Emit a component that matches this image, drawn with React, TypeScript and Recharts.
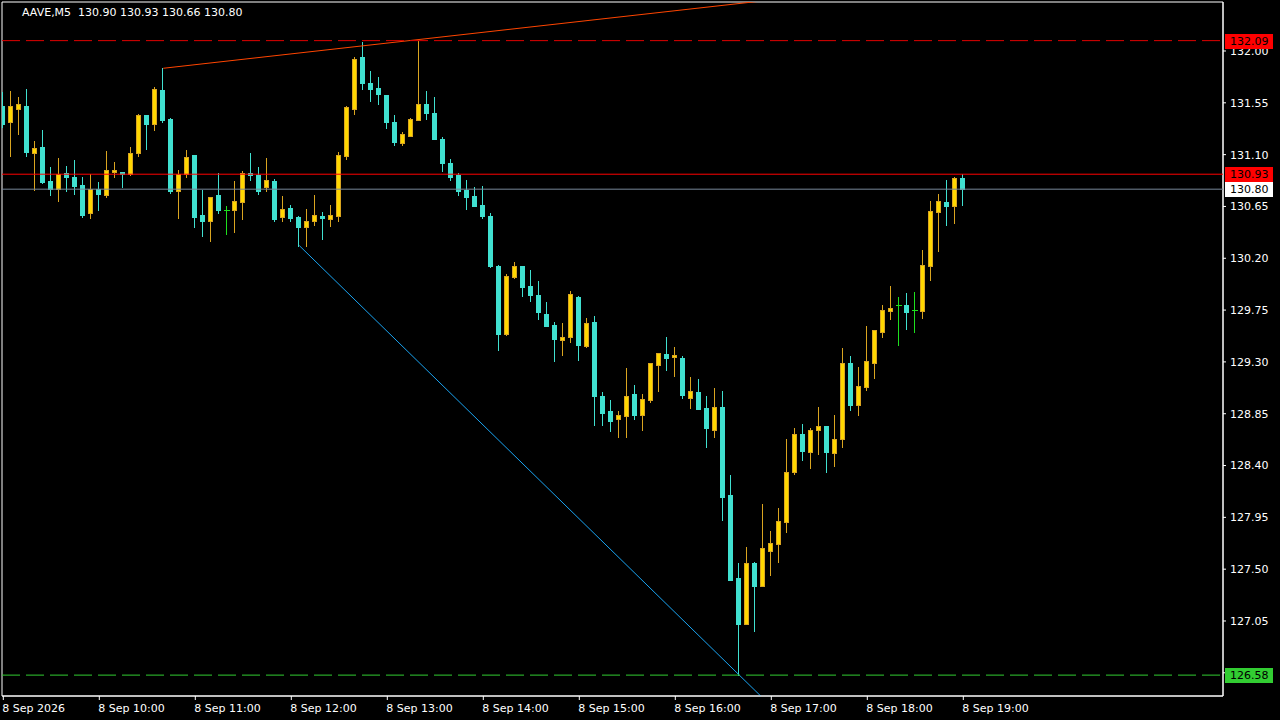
import { ComposedChart, Bar, XAxis, YAxis, ReferenceLine, ReferenceArea } from 'recharts';

// AAVE M5 candles, 8 Sep 2026 09:00 -> 19:00 (index = bar number)
const symbolTitle = 'AAVE,M5';

const opens = [
    131.52, 131.38, 131.50, 131.52, 131.11, 131.17, 130.87, 130.80, 130.94, 130.91,
    130.84, 130.59, 130.80, 130.75, 130.95, 130.95, 130.93, 131.11, 131.44, 131.37,
    131.66, 131.41, 130.78, 130.93, 131.10, 130.58, 130.52, 130.75, 130.62, 130.62,
    130.69, 130.94, 130.92, 130.82, 130.87, 130.56, 130.64, 130.56, 130.47, 130.52,
    130.57, 130.54, 130.57, 131.09, 131.50, 131.95, 131.72, 131.68, 131.62, 131.38,
    131.20, 131.26, 131.40, 131.54, 131.46, 131.24, 131.03, 130.92, 130.79, 130.74,
    130.66, 130.57, 130.13, 129.54, 130.04, 130.13, 129.96, 129.88, 129.72, 129.62,
    129.49, 129.52, 129.86, 129.44, 129.65, 129.00, 128.87, 128.80, 128.83, 129.02,
    128.84, 128.97, 129.27, 129.37, 129.34, 129.33, 128.99, 129.04, 128.90, 128.71,
    128.91, 128.14, 127.42, 127.02, 127.55, 127.35, 127.66, 127.72, 127.91, 128.34,
    128.67, 128.52, 128.71, 128.74, 128.51, 128.63, 129.29, 128.93, 129.08, 129.29,
    129.56, 129.74, 129.79, 129.79, 129.75, 129.74, 130.13, 130.60, 130.69, 130.65,
    130.90,
];

const highs = [
    131.64, 131.65, 131.60, 131.67, 131.22, 131.31, 130.99, 131.07, 131.00, 131.05,
    130.91, 130.93, 130.86, 131.13, 131.04, 130.95, 131.17, 131.45, 131.44, 131.69,
    131.85, 131.42, 130.97, 131.14, 131.10, 130.79, 130.73, 130.94, 130.65, 130.87,
    130.96, 131.11, 130.99, 131.07, 130.89, 130.74, 130.66, 130.57, 130.63, 130.75,
    130.60, 130.66, 131.12, 131.52, 131.95, 132.08, 131.83, 131.77, 131.62, 131.44,
    131.30, 131.42, 132.09, 131.65, 131.60, 131.25, 131.06, 130.94, 130.88, 130.82,
    130.83, 130.59, 130.14, 130.06, 130.17, 130.13, 130.10, 130.00, 129.82, 129.65,
    129.64, 129.92, 129.87, 129.68, 129.70, 129.04, 128.97, 128.87, 129.25, 129.10,
    129.02, 129.29, 129.38, 129.52, 129.43, 129.35, 129.17, 129.15, 129.00, 129.07,
    129.05, 128.32, 127.55, 127.69, 127.56, 128.07, 127.83, 128.03, 128.63, 128.73,
    128.76, 128.73, 128.91, 128.74, 128.84, 129.42, 129.35, 129.26, 129.61, 129.58,
    129.79, 129.96, 129.86, 129.90, 129.91, 130.27, 130.70, 130.76, 130.88, 130.91,
    130.93,
];

const lows = [
    131.34, 131.09, 131.28, 131.09, 130.79, 130.85, 130.75, 130.70, 130.78, 130.76,
    130.56, 130.55, 130.62, 130.73, 130.91, 130.82, 130.92, 131.09, 131.15, 131.31,
    131.38, 130.77, 130.55, 130.91, 130.47, 130.39, 130.35, 130.59, 130.41, 130.43,
    130.54, 130.88, 130.76, 130.78, 130.52, 130.52, 130.52, 130.31, 130.31, 130.49,
    130.37, 130.48, 130.52, 131.06, 131.45, 131.67, 131.57, 131.54, 131.33, 131.18,
    131.18, 131.26, 131.40, 131.41, 131.24, 130.96, 130.88, 130.75, 130.63, 130.65,
    130.55, 130.12, 129.40, 129.53, 130.03, 129.87, 129.83, 129.67, 129.61, 129.31,
    129.36, 129.47, 129.32, 129.43, 128.75, 128.75, 128.70, 128.65, 128.65, 128.80,
    128.71, 128.95, 129.05, 129.23, 129.18, 128.99, 128.90, 128.89, 128.56, 128.65,
    127.93, 127.41, 126.58, 127.02, 126.96, 127.35, 127.45, 127.56, 127.82, 128.33,
    128.45, 128.38, 128.50, 128.34, 128.40, 128.56, 128.88, 128.84, 129.06, 129.16,
    129.52, 129.67, 129.45, 129.59, 129.56, 129.68, 130.01, 130.26, 130.49, 130.51,
    130.66,
];

const closes = [
    131.37, 131.52, 131.54, 131.12, 131.16, 130.86, 130.80, 130.93, 130.91, 130.83,
    130.58, 130.80, 130.76, 130.97, 130.97, 130.93, 131.11, 131.44, 131.37, 131.67,
    131.40, 130.78, 130.93, 131.08, 130.56, 130.52, 130.73, 130.62, 130.62, 130.70,
    130.94, 130.92, 130.78, 130.88, 130.54, 130.63, 130.55, 130.47, 130.52, 130.58,
    130.55, 130.58, 131.10, 131.51, 131.93, 131.72, 131.67, 131.63, 131.38, 131.21,
    131.28, 131.41, 131.54, 131.46, 131.24, 131.03, 130.91, 130.78, 130.73, 130.65,
    130.57, 130.13, 129.54, 130.05, 130.13, 129.95, 129.88, 129.73, 129.61, 129.50,
    129.52, 129.89, 129.45, 129.64, 129.00, 128.86, 128.79, 128.84, 129.00, 128.84,
    128.98, 129.29, 129.38, 129.33, 129.36, 129.01, 129.05, 128.89, 128.73, 128.91,
    128.13, 127.41, 127.02, 127.55, 127.35, 127.68, 127.73, 127.92, 128.34, 128.67,
    128.53, 128.71, 128.74, 128.52, 128.63, 129.29, 128.93, 129.09, 129.31, 129.58,
    129.75, 129.77, 129.79, 129.73, 129.75, 130.14, 130.61, 130.70, 130.65, 130.90,
    130.80,
];

const timeTicks = [0, 12, 24, 36, 48, 60, 72, 84, 96, 108, 120];
const timeLabels = [
    '8 Sep 2026', '8 Sep 10:00', '8 Sep 11:00', '8 Sep 12:00', '8 Sep 13:00', '8 Sep 14:00',
    '8 Sep 15:00', '8 Sep 16:00', '8 Sep 17:00', '8 Sep 18:00', '8 Sep 19:00',
];
const priceTicks = [
    126.60, 127.05, 127.50, 127.95, 128.40, 128.85, 129.30, 129.75, 130.20, 130.65, 131.10, 131.55, 132.00,
];
const priceDomain = [126.3986, 132.4255];
const barDomain = [-0.1625, 152.4625];

// horizontal levels
const highLevel = 132.09;
const lowLevel = 126.58;
const askPrice = 130.93;
const bidPrice = closes[closes.length - 1];

// trend line anchors [bar, price]; drawn as rays to the right
const resistanceAnchors = [[20, 131.85], [52, 132.10]];
const supportAnchors = [[37, 130.31], [92, 126.58]];
const rayEnd = 170;

const data = opens.map((open, i) => ({
    i,
    open,
    high: highs[i],
    low: lows[i],
    close: closes[i],
    range: [lows[i], highs[i]],
}));

const lastIdx = opens.length - 1;
const headerText = `${symbolTitle}  ${opens[lastIdx].toFixed(2)} ${highs[lastIdx].toFixed(2)} ${lows[lastIdx].toFixed(2)} ${closes[lastIdx].toFixed(2)}`;

const ray = (a: number[][]) => {
    const slope = (a[1][1] - a[0][1]) / (a[1][0] - a[0][0]);
    return [
        { x: a[0][0], y: a[0][1] },
        { x: rayEnd, y: a[0][1] + slope * (rayEnd - a[0][0]) },
    ];
};

const FONT = '"DejaVu Sans", sans-serif';

const Candle = (props: any) => {
    const { x, y, width, height, payload } = props;
    if (x == null || y == null) return null;
    const { open, close, high, low } = payload;
    const top = Math.min(y, y + height);
    const h = Math.abs(height);
    const unit = high > low ? h / (high - low) : 0;
    const py = (v: number) => top + (high - v) * unit;
    const cx = Math.floor(x + width / 2) + 0.5;
    const wickTop = Math.round(py(high));
    const wickBot = Math.round(py(low));

    if (open === close) {
        const yy = Math.round(py(open)) + 0.5;
        return (
            <g shapeRendering="crispEdges">
                <line x1={cx} x2={cx} y1={wickTop} y2={wickBot + 1} stroke="#1ee01e" strokeWidth={1} />
                <line x1={cx - 3} x2={cx + 3} y1={yy} y2={yy} stroke="#1ee01e" strokeWidth={1} />
            </g>
        );
    }

    const bull = close > open;
    const fill = bull ? '#FFD700' : '#40E0D0';
    const edge = bull ? '#DAA520' : '#40E0D0';
    const bTop = Math.round(py(Math.max(open, close)));
    const bBot = Math.round(py(Math.min(open, close)));
    return (
        <g shapeRendering="crispEdges">
            <line x1={cx} x2={cx} y1={wickTop} y2={wickBot + 1} stroke={edge} strokeWidth={1} />
            <rect
                x={cx - 2}
                y={bTop + 0.5}
                width={4}
                height={Math.max(bBot - bTop, 1)}
                fill={fill}
                stroke={edge}
                strokeWidth={1}
            />
        </g>
    );
};

const TimeTick = (props: any) => {
    const { x, y, payload } = props;
    const idx = timeTicks.indexOf(payload.value);
    return (
        <text x={x - 1} y={y} dy="0.71em" fill="#ffffff" fontSize={11} fontFamily={FONT} textAnchor="start">
            {timeLabels[idx]}
        </text>
    );
};

const PriceTag = (props: any) => {
    const { viewBox, price, bg } = props;
    if (!viewBox) return null;
    const right = viewBox.x + viewBox.width;
    const cy = Math.round(viewBox.y);
    return (
        <g>
            <rect x={right + 2} y={cy - 7} width={48} height={15} fill={bg} shapeRendering="crispEdges" />
            <text x={right + 7} y={cy} dy="0.36em" fill="#000000" fontSize={11} fontFamily={FONT}>
                {price.toFixed(2)}
            </text>
        </g>
    );
};

const App = () => {
    return (
        <div style={{ position: 'absolute', left: 0, top: 0, width: 1280, height: 720, background: '#000000', overflow: 'hidden' }}>
            {/* candles, axes, trend lines */}
            <div style={{ position: 'absolute', left: 0, top: 0 }}>
                <ComposedChart
                    width={1280}
                    height={720}
                    data={data}
                    margin={{ top: 2, right: 0, bottom: 0, left: 2 }}
                >
                    <XAxis
                        type="number"
                        dataKey="i"
                        domain={barDomain}
                        allowDataOverflow
                        ticks={timeTicks}
                        interval={0}
                        height={24}
                        tickSize={4}
                        tickMargin={4}
                        axisLine={{ stroke: '#ffffff' }}
                        tickLine={{ stroke: '#ffffff' }}
                        tick={<TimeTick />}
                    />
                    <YAxis
                        type="number"
                        orientation="right"
                        domain={priceDomain}
                        allowDataOverflow
                        ticks={priceTicks}
                        interval={0}
                        width={57}
                        tickSize={3}
                        tickMargin={4}
                        axisLine={{ stroke: '#ffffff' }}
                        tickLine={{ stroke: '#ffffff' }}
                        tick={{ fill: '#ffffff', fontSize: 11, fontFamily: FONT }}
                        tickFormatter={(v: number) => v.toFixed(2)}
                    />

                    {/* chart frame */}
                    <ReferenceArea
                        x1={barDomain[0]}
                        x2={barDomain[1]}
                        y1={priceDomain[0]}
                        y2={priceDomain[1]}
                        fill="none"
                        stroke="#ffffff"
                        strokeWidth={1}
                        fillOpacity={0}
                        ifOverflow="visible"
                    />

                    <ReferenceLine segment={ray(resistanceAnchors)} stroke="#FF4500" strokeWidth={1} ifOverflow="hidden" />
                    <ReferenceLine segment={ray(supportAnchors)} stroke="#1AA3F0" strokeWidth={1} ifOverflow="hidden" />

                    <Bar dataKey="range" barSize={5} shape={<Candle />} isAnimationActive={false} />
                </ComposedChart>
            </div>

            {/* price levels and their tags, layered above the price scale */}
            <div style={{ position: 'absolute', left: 0, top: 0 }}>
                <ComposedChart
                    width={1280}
                    height={720}
                    data={data}
                    margin={{ top: 2, right: 57, bottom: 24, left: 2 }}
                >
                    <XAxis type="number" dataKey="i" domain={barDomain} allowDataOverflow hide />
                    <YAxis type="number" domain={priceDomain} allowDataOverflow hide />
                    <ReferenceLine y={highLevel} stroke="#E00000" strokeDasharray="18 6" ifOverflow="visible"
                        label={<PriceTag price={highLevel} bg="#FF0000" />} />
                    <ReferenceLine y={askPrice} stroke="#FF0000" ifOverflow="visible"
                        label={<PriceTag price={askPrice} bg="#FF0000" />} />
                    <ReferenceLine y={bidPrice} stroke="#778899" ifOverflow="visible"
                        label={<PriceTag price={bidPrice} bg="#FFFFFF" />} />
                    <ReferenceLine y={lowLevel} stroke="#32CD32" strokeDasharray="18 6" ifOverflow="visible"
                        label={<PriceTag price={lowLevel} bg="#32CD32" />} />
                </ComposedChart>
            </div>

            <div
                style={{
                    position: 'absolute',
                    left: 22,
                    top: 6,
                    color: '#ffffff',
                    fontFamily: FONT,
                    fontSize: 11,
                    whiteSpace: 'pre',
                    lineHeight: 'normal',
                }}
            >
                {headerText}
            </div>
        </div>
    );
};

export default App;
